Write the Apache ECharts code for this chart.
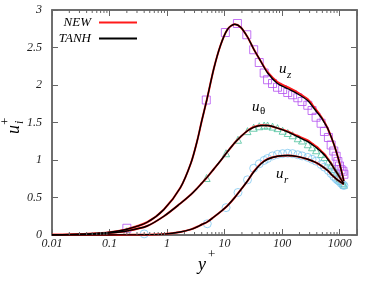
<!DOCTYPE html>
<html>
<head>
<meta charset="utf-8">
<script src="https://cdn.jsdelivr.net/npm/echarts@6/dist/echarts.min.js"></script>
<style>html,body{margin:0;padding:0;background:#fff}#c{width:382px;height:285px}</style>
</head>
<body>
<div id="c"></div>
<script>
// ---- data ----
const curveX = [0.01,0.02,0.05,0.1,0.2,0.45,0.88,1.7,2.6,3.35,4,4.9,6.5,8.5,11.2,15,19,25,32,43,56,83,125,187,280,340,400,475,540,620,710,810,930,1000,1060,1140,1180];
const uzTanh = [0.004,0.008,0.019,0.038,0.077,0.17,0.34,0.63,0.96,1.26,1.52,1.80,2.22,2.53,2.74,2.81,2.77,2.64,2.48,2.31,2.16,2.02,1.95,1.88,1.79,1.71,1.64,1.57,1.50,1.42,1.31,1.19,1.04,0.95,0.87,0.77,0.72];
const uzNew  = [0.004,0.008,0.019,0.038,0.077,0.17,0.34,0.63,0.96,1.26,1.52,1.80,2.22,2.53,2.74,2.81,2.77,2.64,2.48,2.31,2.17,2.04,1.97,1.90,1.81,1.73,1.66,1.58,1.51,1.42,1.31,1.19,1.04,0.95,0.87,0.77,0.72];
const utTanh = [0.0027,0.0054,0.0135,0.027,0.054,0.12,0.25,0.42,0.54,0.625,0.69,0.765,0.88,0.99,1.11,1.23,1.31,1.39,1.435,1.46,1.46,1.425,1.375,1.31,1.245,1.20,1.16,1.11,1.07,1.01,0.95,0.88,0.81,0.77,0.74,0.70,0.69];
const utNew  = [0.0027,0.0054,0.0135,0.027,0.054,0.12,0.25,0.42,0.54,0.625,0.69,0.765,0.88,0.99,1.11,1.23,1.31,1.39,1.44,1.465,1.46,1.425,1.38,1.32,1.26,1.215,1.175,1.12,1.08,1.02,0.955,0.88,0.81,0.77,0.74,0.70,0.69];
const urTanh = [0,0.0001,0.0005,0.001,0.002,0.004,0.012,0.04,0.075,0.11,0.14,0.17,0.24,0.31,0.39,0.50,0.60,0.72,0.84,0.95,1.01,1.05,1.06,1.045,1.01,0.985,0.96,0.925,0.895,0.86,0.81,0.77,0.73,0.715,0.70,0.685,0.68];
const urNew  = [0,0.0001,0.0005,0.001,0.002,0.004,0.012,0.04,0.075,0.11,0.14,0.17,0.24,0.31,0.39,0.50,0.60,0.72,0.845,0.955,1.015,1.05,1.06,1.045,1.01,0.985,0.96,0.925,0.895,0.86,0.81,0.77,0.73,0.715,0.70,0.685,0.68];

const uzMarkX = [0.2,4.8,10.3,16.7,24.3,32,40,48.7,55.8,68,83,102,125,152,187,222,279,331,389,475,543,637,711,790,869,930,993,1060,1138,1185];
const uzMarkY = [0.09,1.80,2.70,2.82,2.67,2.47,2.30,2.16,2.07,2.02,1.97,1.94,1.90,1.87,1.83,1.78,1.73,1.66,1.57,1.49,1.38,1.30,1.20,1.12,1.05,0.98,0.92,0.87,0.85,0.81];
const utMarkX = [0.2,4.87,10.6,17.1,25,32,40,48.7,55.8,68,83,102,125,152,187,222,279,331,389,475,543,637,711,790,869,930,993,1060,1138,1185];
const utMarkY = [0.05,0.76,1.09,1.27,1.385,1.43,1.45,1.46,1.46,1.445,1.425,1.39,1.36,1.33,1.29,1.26,1.21,1.17,1.13,1.08,1.04,0.98,0.93,0.88,0.83,0.79,0.76,0.72,0.69,0.67];
const urMarkX = [0.4,5,10.6,17.1,25,32,40,48.7,55.8,68,83,102,125,152,187,222,279,331,389,475,543,637,711,790,869,930,993,1060,1138,1185];
const urMarkY = [0.015,0.15,0.365,0.567,0.736,0.89,0.95,0.995,1.02,1.055,1.075,1.085,1.09,1.085,1.07,1.055,1.035,1.01,0.985,0.94,0.905,0.86,0.82,0.78,0.75,0.73,0.715,0.69,0.67,0.66];

const xTickValues = [0.01,0.1,1,10,100,1000];
const xTickLabels = ['0.01','0.1','1','10','100','1000'];
const yTickValues = [0,0.5,1,1.5,2,2.5,3];
const yTickLabels = ['0','0.5','1','1.5','2','2.5','3'];
const legendNames = ['NEW','TANH'];

// ---- build ----
const zip = (xs, ys) => xs.map((x, i) => [x, ys[i]]);
const minorTicks = [];
for (let k = -2; k <= 3; k++) for (let m = 2; m <= 9; m++) { const v = m * Math.pow(10, k); if (v < 2000) minorTicks.push([+v.toPrecision(3), 0]); }

const SERIF = 'Liberation Serif';
const FRAME = '#666666';
const C_NEW = '#ff1a1a', C_TANH = '#000000';
const C_SQ = '#b450f0', C_TRI = '#4cc09c', C_CIR = '#7fc8f0';

function lineSeries(name, data, color, width, z) {
  return { name, type: 'line', data, showSymbol: false, symbol: 'none', smooth: 0.3,
    lineStyle: { color, width }, itemStyle: { color }, z, silent: true, animation: false, clip: true };
}
function markSeries(name, data, symbol, size, color) {
  return { name, type: 'scatter', data, symbol, symbolSize: size,
    itemStyle: { color: 'rgba(0,0,0,0)', borderColor: color, borderWidth: 1 }, z: 1, animation: false, silent: true };
}

const chart = echarts.init(document.getElementById('c'), null, { renderer: 'canvas' });
const labFmtX = v => { const i = xTickValues.findIndex(t => Math.abs(Math.log10(v) - Math.log10(t)) < 1e-6); return i >= 0 ? xTickLabels[i] : ''; };
const labFmtY = v => { const i = yTickValues.findIndex(t => Math.abs(v - t) < 1e-9); return i >= 0 ? yTickLabels[i] : ''; };
const axLine = { show: true, onZero: false, lineStyle: { color: FRAME, width: 1.5 } };
const axTick = { show: true, inside: true, length: 6, lineStyle: { color: FRAME, width: 1 } };

chart.setOption({
  animation: false,
  backgroundColor: '#ffffff',
  grid: { left: 52, right: 25, top: 10, bottom: 50, containLabel: false, show: true, borderColor: FRAME, borderWidth: 1.5, backgroundColor: 'rgba(0,0,0,0)' },
  xAxis: [
    { type: 'log', logBase: 10, min: 0.01, max: 2000, position: 'bottom',
      axisLine: axLine, axisTick: axTick,
      axisLabel: { show: true, margin: 3, formatter: labFmtX, color: '#222', fontFamily: SERIF, fontStyle: 'italic', fontSize: 12 },
      splitLine: { show: false }, minorTick: { show: false } },
    { type: 'log', logBase: 10, min: 0.01, max: 2000, position: 'top',
      axisLine: axLine, axisTick: axTick,
      axisLabel: { show: false }, splitLine: { show: false } }
  ],
  yAxis: [
    { type: 'value', min: 0, max: 3, interval: 0.5, position: 'left',
      axisLine: axLine, axisTick: axTick,
      axisLabel: { show: true, margin: 10, formatter: labFmtY, color: '#222', fontFamily: SERIF, fontStyle: 'italic', fontSize: 12 },
      splitLine: { show: false } },
    { type: 'value', min: 0, max: 3, interval: 0.5, position: 'right',
      axisLine: axLine, axisTick: axTick,
      axisLabel: { show: false }, splitLine: { show: false } }
  ],
  legend: {
    data: legendNames, orient: 'vertical', align: 'right', right: 245, top: 16, padding: 0,
    icon: 'rect', itemWidth: 38, itemHeight: 2, itemGap: 3, selectedMode: false,
    textStyle: { fontFamily: SERIF, fontStyle: 'italic', fontSize: 13, color: '#000', padding: [0, 3, 0, 0] }
  },
  series: [
    markSeries('DNS uz', zip(uzMarkX, uzMarkY), 'rect', 8, C_SQ),
    markSeries('DNS ut', zip(utMarkX, utMarkY), 'triangle', 7, C_TRI),
    markSeries('DNS ur', zip(urMarkX, urMarkY), 'circle', 8, C_CIR),
    lineSeries('NEW', zip(curveX, uzNew), C_NEW, 2, 2),
    lineSeries('NEW', zip(curveX, utNew), C_NEW, 2, 2),
    lineSeries('NEW', zip(curveX, urNew), C_NEW, 2, 2),
    lineSeries('TANH', zip(curveX, uzTanh), C_TANH, 1.4, 3),
    lineSeries('TANH', zip(curveX, utTanh), C_TANH, 1.4, 3),
    lineSeries('TANH', zip(curveX, urTanh), C_TANH, 1.4, 3),
    { name: 'mirror', type: 'line', xAxisIndex: 1, yAxisIndex: 1, data: [], silent: true, showSymbol: false },
    { name: 'minor ticks', type: 'custom', data: minorTicks, encode: { x: 0, y: 1 }, clip: false, z: 5, silent: true,
      renderItem: (params, api) => {
        const v = api.value(0);
        const pb = api.coord([v, 0]);
        const pt = api.coord([v, 3]);
        return { type: 'group', children: [
          { type: 'line', shape: { x1: pb[0], y1: pb[1], x2: pb[0], y2: pb[1] - 3 }, style: { stroke: FRAME, lineWidth: 1 } },
          { type: 'line', shape: { x1: pt[0], y1: pt[1], x2: pt[0], y2: pt[1] + 3 }, style: { stroke: FRAME, lineWidth: 1 } }
        ] };
      } }
  ],
  graphic: [
    { type: 'text', left: 198, top: 256, style: { text: 'y', font: 'italic 18px "Liberation Serif"', fill: '#000' } },
    { type: 'text', left: 208, top: 248, style: { text: '+', font: '13px "Liberation Serif"', fill: '#000' } },
    { type: 'group', x: 14, y: 134, rotation: Math.PI / 2, children: [
      { type: 'text', x: 0, y: 0, style: { text: 'u', font: 'italic 18px "Liberation Serif"', fill: '#000', textAlign: 'left', textVerticalAlign: 'middle' } },
      { type: 'text', x: 10, y: 6, style: { text: 'i', font: 'italic 12px "Liberation Serif"', fill: '#000', textAlign: 'left', textVerticalAlign: 'middle' } },
      { type: 'text', x: 9, y: -8, style: { text: '+', font: '13px "Liberation Serif"', fill: '#000', textAlign: 'left', textVerticalAlign: 'middle' } }
    ] },
    { type: 'text', x: 279, y: 69, style: { text: 'u', font: 'italic 15px "Liberation Serif"', fill: '#000', textVerticalAlign: 'middle' } },
    { type: 'text', x: 287, y: 75, style: { text: 'z', font: 'italic 11px "Liberation Serif"', fill: '#000', textVerticalAlign: 'middle' } },
    { type: 'text', x: 252, y: 107, style: { text: 'u', font: 'italic 15px "Liberation Serif"', fill: '#000', textVerticalAlign: 'middle' } },
    { type: 'text', x: 260, y: 111, style: { text: 'θ', font: '11px "Liberation Serif"', fill: '#000', textVerticalAlign: 'middle' } },
    { type: 'text', x: 276, y: 174, style: { text: 'u', font: 'italic 15px "Liberation Serif"', fill: '#000', textVerticalAlign: 'middle' } },
    { type: 'text', x: 284, y: 180, style: { text: 'r', font: 'italic 11px "Liberation Serif"', fill: '#000', textVerticalAlign: 'middle' } }
  ]
});
</script>
</body>
</html>
